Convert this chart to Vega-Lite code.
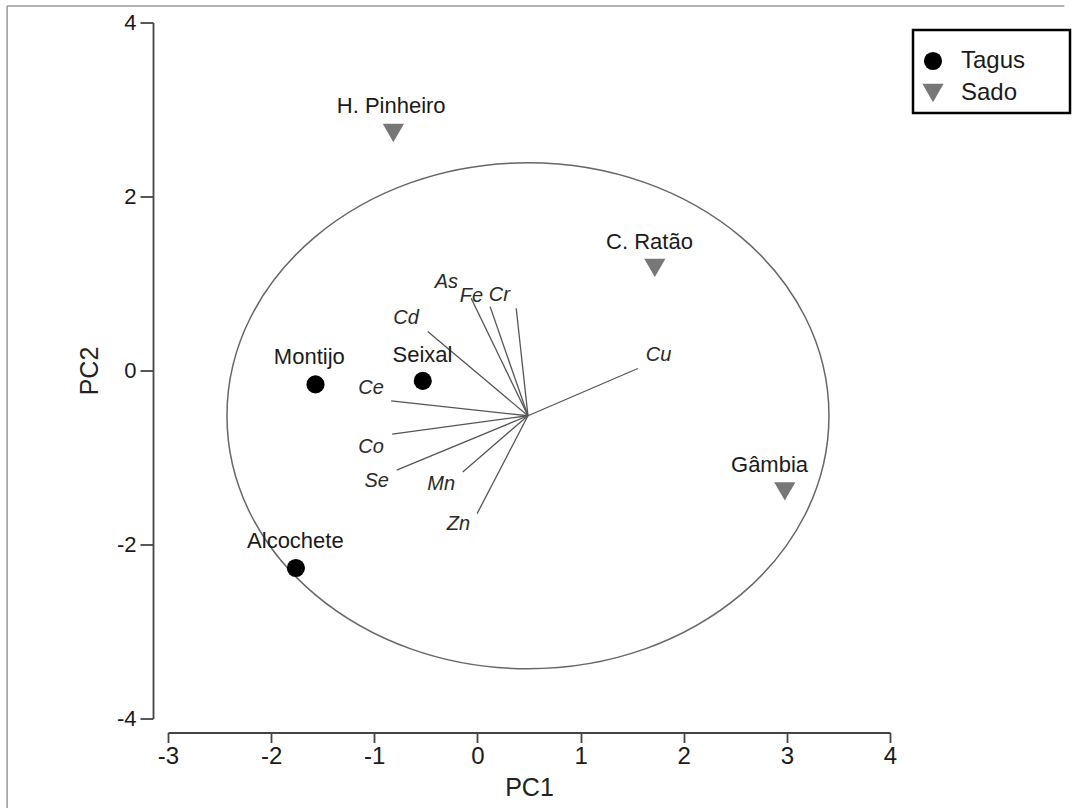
{
  "$schema": "https://vega.github.io/schema/vega-lite/v6.json",
  "width": 722,
  "height": 696,
  "autosize": {"type": "none"},
  "padding": {"left": 168, "top": 22.5, "right": 190, "bottom": 89.5},
  "background": "white",
  "config": {
    "font": "Liberation Sans",
    "view": {"stroke": null},
    "legend": {"strokeWidth": 2.5},
    "axis": {"grid": false, "domainColor": "#444", "tickColor": "#444", "domainWidth": 1.8, "tickWidth": 1.8, "labelColor": "#1a1a1a", "titleColor": "#222", "titleFontWeight": "normal", "labelFlush": false, "labelOverlap": false, "labelExpr": "'' + datum.value"},
    "axisX": {"offset": 14, "tickSize": 10, "labelFontSize": 24, "titleFontSize": 25, "labelPadding": 2, "titlePadding": 7},
    "axisY": {"offset": 15, "tickSize": 13, "labelFontSize": 22, "titleFontSize": 25, "labelPadding": 4, "titlePadding": 14}
  },
  "datasets": {
    "sites": [
      {"site": "H. Pinheiro", "river": "Sado", "pc1": -0.815, "pc2": 2.73, "lx": -0.836, "ly": 3.04},
      {"site": "C. Ratão", "river": "Sado", "pc1": 1.72, "pc2": 1.18, "lx": 1.668, "ly": 1.48},
      {"site": "Gâmbia", "river": "Sado", "pc1": 2.98, "pc2": -1.39, "lx": 2.832, "ly": -1.088},
      {"site": "Montijo", "river": "Tagus", "pc1": -1.57, "pc2": -0.16, "lx": -1.63, "ly": 0.156},
      {"site": "Seixal", "river": "Tagus", "pc1": -0.53, "pc2": -0.12, "lx": -0.533, "ly": 0.179},
      {"site": "Alcochete", "river": "Tagus", "pc1": -1.76, "pc2": -2.27, "lx": -1.765, "ly": -1.964}
    ],
    "loadings": [
      {"var": "As", "x0": 0.49, "y0": -0.52, "x1": -0.061, "y1": 0.83, "lx": -0.301, "ly": 1.02},
      {"var": "Fe", "x0": 0.49, "y0": -0.52, "x1": 0.123, "y1": 0.734, "lx": -0.058, "ly": 0.858},
      {"var": "Cr", "x0": 0.49, "y0": -0.52, "x1": 0.376, "y1": 0.716, "lx": 0.213, "ly": 0.87},
      {"var": "Cd", "x0": 0.49, "y0": -0.52, "x1": -0.482, "y1": 0.447, "lx": -0.692, "ly": 0.601},
      {"var": "Cu", "x0": 0.49, "y0": -0.52, "x1": 1.555, "y1": 0.023, "lx": 1.756, "ly": 0.179},
      {"var": "Ce", "x0": 0.49, "y0": -0.52, "x1": -0.837, "y1": -0.349, "lx": -1.031, "ly": -0.205},
      {"var": "Co", "x0": 0.49, "y0": -0.52, "x1": -0.827, "y1": -0.732, "lx": -1.031, "ly": -0.881},
      {"var": "Se", "x0": 0.49, "y0": -0.52, "x1": -0.783, "y1": -1.146, "lx": -0.977, "ly": -1.27},
      {"var": "Mn", "x0": 0.49, "y0": -0.52, "x1": -0.142, "y1": -1.166, "lx": -0.352, "ly": -1.308},
      {"var": "Zn", "x0": 0.49, "y0": -0.52, "x1": -0.003, "y1": -1.645, "lx": -0.184, "ly": -1.768}
    ],
    "circle": [{"name": "correlation circle", "cx": 0.49, "cy": -0.52}],
    "frame": [{"side": "left"}]
  },
  "layer": [
    {
      "data": {"name": "frame"},
      "mark": {"type": "rule", "color": "#999", "strokeWidth": 1.5, "clip": false},
      "encoding": {
        "x": {"datum": -4.56, "type": "quantitative", "scale": {"domain": [-3, 4], "nice": false, "zero": false}, "axis": {"values": [-3, -2, -1, 0, 1, 2, 3, 4], "title": "PC1"}},
        "y": {"datum": -5.1, "type": "quantitative", "scale": {"domain": [-4, 4], "nice": false, "zero": false}, "axis": {"values": [-4, -2, 0, 2, 4], "title": "PC2"}},
        "y2": {"datum": 4.19}
      }
    },
    {
      "data": {"name": "frame"},
      "mark": {"type": "rule", "color": "#999", "strokeWidth": 1.5, "clip": false},
      "encoding": {
        "x": {"datum": -4.56, "type": "quantitative", "scale": {"domain": [-3, 4], "nice": false, "zero": false}, "axis": {"values": [-3, -2, -1, 0, 1, 2, 3, 4], "title": "PC1"}},
        "x2": {"datum": 5.69},
        "y": {"datum": 4.19, "type": "quantitative", "scale": {"domain": [-4, 4], "nice": false, "zero": false}, "axis": {"values": [-4, -2, 0, 2, 4], "title": "PC2"}}
      }
    },
    {
      "data": {"name": "circle"},
      "mark": {"type": "point", "shape": "M -1 0 A 1 0.8405 0 1 1 1 0 A 1 0.8405 0 1 1 -1 0 Z", "size": 362404, "filled": false, "stroke": "#666", "strokeWidth": 1.5, "opacity": 1},
      "encoding": {
        "x": {"field": "cx", "type": "quantitative", "scale": {"domain": [-3, 4], "nice": false, "zero": false}, "axis": {"values": [-3, -2, -1, 0, 1, 2, 3, 4], "title": "PC1"}},
        "y": {"field": "cy", "type": "quantitative", "scale": {"domain": [-4, 4], "nice": false, "zero": false}, "axis": {"values": [-4, -2, 0, 2, 4], "title": "PC2"}}
      }
    },
    {
      "data": {"name": "loadings"},
      "mark": {"type": "rule", "color": "#555", "strokeWidth": 1.3},
      "encoding": {
        "x": {"field": "x0", "type": "quantitative", "scale": {"domain": [-3, 4], "nice": false, "zero": false}, "axis": {"values": [-3, -2, -1, 0, 1, 2, 3, 4], "title": "PC1"}},
        "y": {"field": "y0", "type": "quantitative", "scale": {"domain": [-4, 4], "nice": false, "zero": false}, "axis": {"values": [-4, -2, 0, 2, 4], "title": "PC2"}},
        "x2": {"field": "x1"},
        "y2": {"field": "y1"}
      }
    },
    {
      "data": {"name": "loadings"},
      "mark": {"type": "text", "fontStyle": "italic", "fontSize": 20, "color": "#2a2a2a", "align": "center", "baseline": "middle"},
      "encoding": {
        "x": {"field": "lx", "type": "quantitative", "scale": {"domain": [-3, 4], "nice": false, "zero": false}, "axis": {"values": [-3, -2, -1, 0, 1, 2, 3, 4], "title": "PC1"}},
        "y": {"field": "ly", "type": "quantitative", "scale": {"domain": [-4, 4], "nice": false, "zero": false}, "axis": {"values": [-4, -2, 0, 2, 4], "title": "PC2"}},
        "text": {"field": "var"}
      }
    },
    {
      "data": {"name": "sites"},
      "mark": {"type": "point", "filled": true, "opacity": 1, "strokeWidth": 0},
      "encoding": {
        "x": {"field": "pc1", "type": "quantitative", "scale": {"domain": [-3, 4], "nice": false, "zero": false}, "axis": {"values": [-3, -2, -1, 0, 1, 2, 3, 4], "title": "PC1"}},
        "y": {"field": "pc2", "type": "quantitative", "scale": {"domain": [-4, 4], "nice": false, "zero": false}, "axis": {"values": [-4, -2, 0, 2, 4], "title": "PC2"}},
        "color": {"field": "river", "type": "nominal", "scale": {"domain": ["Tagus", "Sado"], "range": ["#000000", "#777777"]},
          "legend": {"orient": "none", "legendX": 745, "legendY": 7.5, "title": "...............................................................", "titleFontSize": 8, "titleOpacity": 0, "titlePadding": 3, "titleLimit": 300, "padding": 8, "strokeColor": "black", "fillColor": "white", "labelFontSize": 24, "labelColor": "#1a1a1a", "symbolSize": 350, "rowPadding": 8, "labelOffset": 16, "symbolStrokeWidth": 0}},
        "shape": {"field": "river", "type": "nominal", "scale": {"domain": ["Tagus", "Sado"], "range": ["circle", "triangle-down"]},
          "legend": {"orient": "none", "legendX": 745, "legendY": 7.5, "title": "...............................................................", "titleFontSize": 8, "titleOpacity": 0, "titlePadding": 3, "titleLimit": 300, "padding": 8, "strokeColor": "black", "fillColor": "white", "labelFontSize": 24, "labelColor": "#1a1a1a", "symbolSize": 350, "rowPadding": 8, "labelOffset": 16, "symbolStrokeWidth": 0}},
        "size": {"field": "river", "type": "ordinal", "scale": {"domain": ["Tagus", "Sado"], "range": [330, 450]}, "legend": null}
      }
    },
    {
      "data": {"name": "sites"},
      "mark": {"type": "text", "fontSize": 22, "color": "#1a1a1a", "align": "center", "baseline": "middle"},
      "encoding": {
        "x": {"field": "lx", "type": "quantitative", "scale": {"domain": [-3, 4], "nice": false, "zero": false}, "axis": {"values": [-3, -2, -1, 0, 1, 2, 3, 4], "title": "PC1"}},
        "y": {"field": "ly", "type": "quantitative", "scale": {"domain": [-4, 4], "nice": false, "zero": false}, "axis": {"values": [-4, -2, 0, 2, 4], "title": "PC2"}},
        "text": {"field": "site"}
      }
    }
  ]
}
